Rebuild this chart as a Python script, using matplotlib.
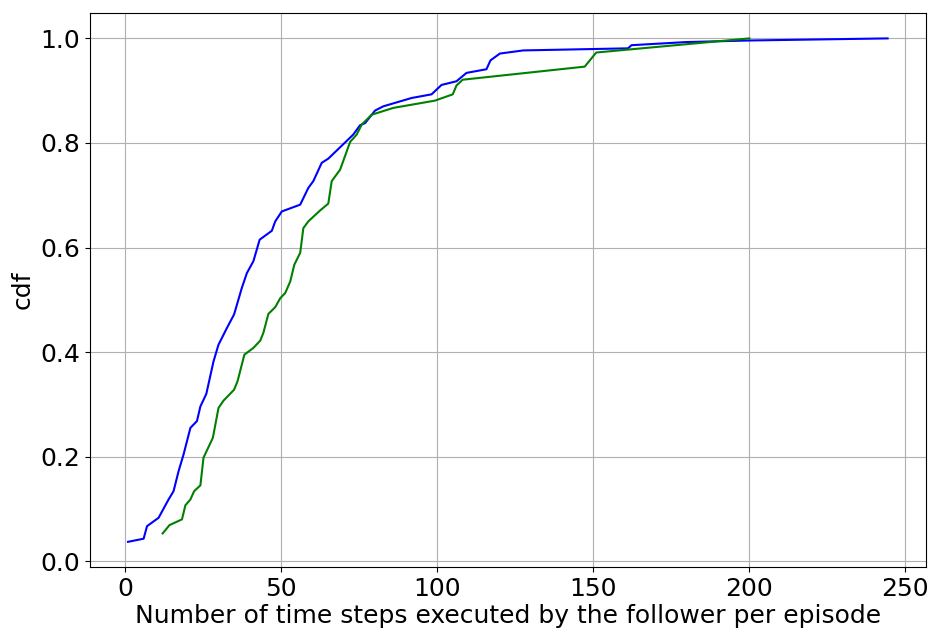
import matplotlib
matplotlib.use('Agg')
import matplotlib.pyplot as plt

# blue curve: steps vs cdf
blue_steps = [1.0, 6.0, 7.1, 10.8, 14.0, 15.6, 17.2, 18.8, 21.0, 23.1, 24.2, 26.1,
              28.4, 30.0, 32.7, 35.0, 37.5, 39.1, 41.2, 43.2, 47.1, 48.2, 50.3,
              56.2, 58.8, 60.4, 63.1, 65.2, 73.2, 75.4, 77.0, 80.2, 82.8, 91.9,
              98.3, 101.5, 106.3, 109.5, 115.9, 117.2, 120.2, 127.7, 161.3, 162.4,
              180.0, 200.2, 244.5]
blue_cdf = [0.037, 0.043, 0.067, 0.083, 0.118, 0.134, 0.172, 0.204, 0.255, 0.268,
            0.296, 0.320, 0.382, 0.414, 0.446, 0.472, 0.523, 0.551, 0.574, 0.615,
            0.632, 0.650, 0.669, 0.682, 0.714, 0.727, 0.762, 0.770, 0.816, 0.834,
            0.838, 0.862, 0.870, 0.886, 0.893, 0.911, 0.918, 0.934, 0.941, 0.958,
            0.971, 0.977, 0.981, 0.987, 0.993, 0.996, 1.0]

# green curve
green_steps = [12.1, 14.3, 18.3, 19.4, 21.0, 22.2, 24.2, 25.2, 28.2, 30.0, 31.6,
               35.0, 36.1, 38.3, 41.2, 43.4, 44.4, 46.0, 48.2, 49.8, 51.4, 53.0,
               54.3, 56.2, 57.2, 58.8, 62.6, 65.2, 66.3, 69.0, 72.2, 74.3, 75.9,
               79.1, 86.0, 99.4, 105.1, 106.3, 108.3, 147.4, 151.1, 200.2]
green_cdf = [0.053, 0.069, 0.080, 0.107, 0.118, 0.134, 0.145, 0.198, 0.236, 0.293,
             0.307, 0.328, 0.344, 0.395, 0.408, 0.422, 0.437, 0.473, 0.486, 0.503,
             0.513, 0.535, 0.567, 0.590, 0.637, 0.650, 0.671, 0.684, 0.727, 0.749,
             0.802, 0.816, 0.835, 0.854, 0.867, 0.881, 0.893, 0.910, 0.921, 0.946,
             0.973, 1.0]

fig = plt.figure(figsize=(9.34, 6.3), dpi=100)
ax = fig.add_subplot(1, 1, 1)
fig.subplots_adjust(left=0.0964, right=0.991, bottom=0.1, top=0.979)

ax.plot(blue_steps, blue_cdf, color='blue', linewidth=1.5)
ax.plot(green_steps, green_cdf, color='green', linewidth=1.5)

ax.set_xlabel('Number of time steps executed by the follower per episode', fontsize=18, labelpad=2)
ax.set_ylabel('cdf', fontsize=18)
ax.tick_params(labelsize=18)
ax.grid(True)

fig.savefig('out.png', dpi=100)
